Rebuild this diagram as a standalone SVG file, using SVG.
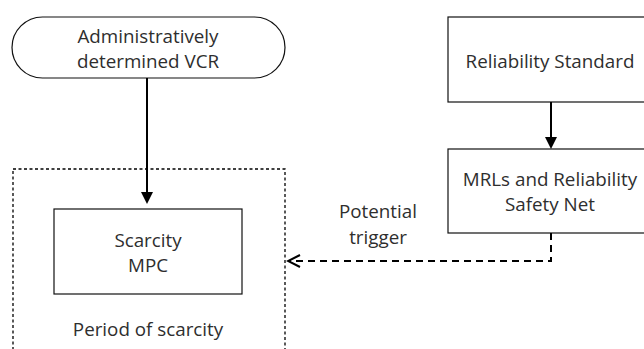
<svg xmlns="http://www.w3.org/2000/svg" width="644" height="349" viewBox="0 0 644 349">
<style>
text{font-family:"Open Sans","Liberation Sans",Arial,sans-serif;font-size:18.8px;fill:#2e2e2e;text-anchor:middle}
.box{fill:#fff;stroke:#111;stroke-width:1.2}
.solid{stroke:#000;stroke-width:2;fill:none}
.dash{stroke:#000;stroke-width:2;fill:none;stroke-dasharray:7,5}
.region{fill:none;stroke:#000;stroke-width:1.3;stroke-dasharray:3,2.5}
</style>
<defs>
<marker id="tri" markerWidth="12" markerHeight="12" refX="10" refY="6" orient="auto" markerUnits="userSpaceOnUse">
<path d="M0,0 L12,6 L0,12 Z" fill="#000"/>
</marker>
<marker id="open" markerWidth="16" markerHeight="16" refX="14" refY="8" orient="auto" markerUnits="userSpaceOnUse">
<path d="M2,2 L14,8 L2,14" fill="none" stroke="#000" stroke-width="2"/>
</marker>
</defs>
<g id="period">
<rect class="region" x="13" y="169" width="272" height="220"/>
<text x="148" y="336">Period of scarcity</text>
</g>
<g id="vcr">
<rect class="box" x="12" y="17" width="273" height="61" rx="30.5" ry="30.5"/>
<text x="148" y="43">Administratively</text>
<text x="148" y="68">determined VCR</text>
</g>
<g id="mpc">
<rect class="box" x="54" y="209" width="188" height="85"/>
<text x="148" y="247">Scarcity</text>
<text x="148" y="272">MPC</text>
</g>
<g id="standard">
<rect class="box" x="448" y="17" width="210" height="85"/>
<text x="550" y="68">Reliability Standard</text>
</g>
<g id="mrls">
<rect class="box" x="448" y="149" width="210" height="84"/>
<text x="550" y="186">MRLs and Reliability</text>
<text x="550" y="211">Safety Net</text>
</g>
<g id="connectors">
<line class="solid" x1="147" y1="78" x2="147" y2="202" marker-end="url(#tri)"/>
<line class="solid" x1="551" y1="102" x2="551" y2="147" marker-end="url(#tri)"/>
<polyline class="dash" points="551,233 551,261 288,261" marker-end="url(#open)"/>
<text x="378" y="218">Potential</text>
<text x="378" y="244">trigger</text>
</g>
</svg>
